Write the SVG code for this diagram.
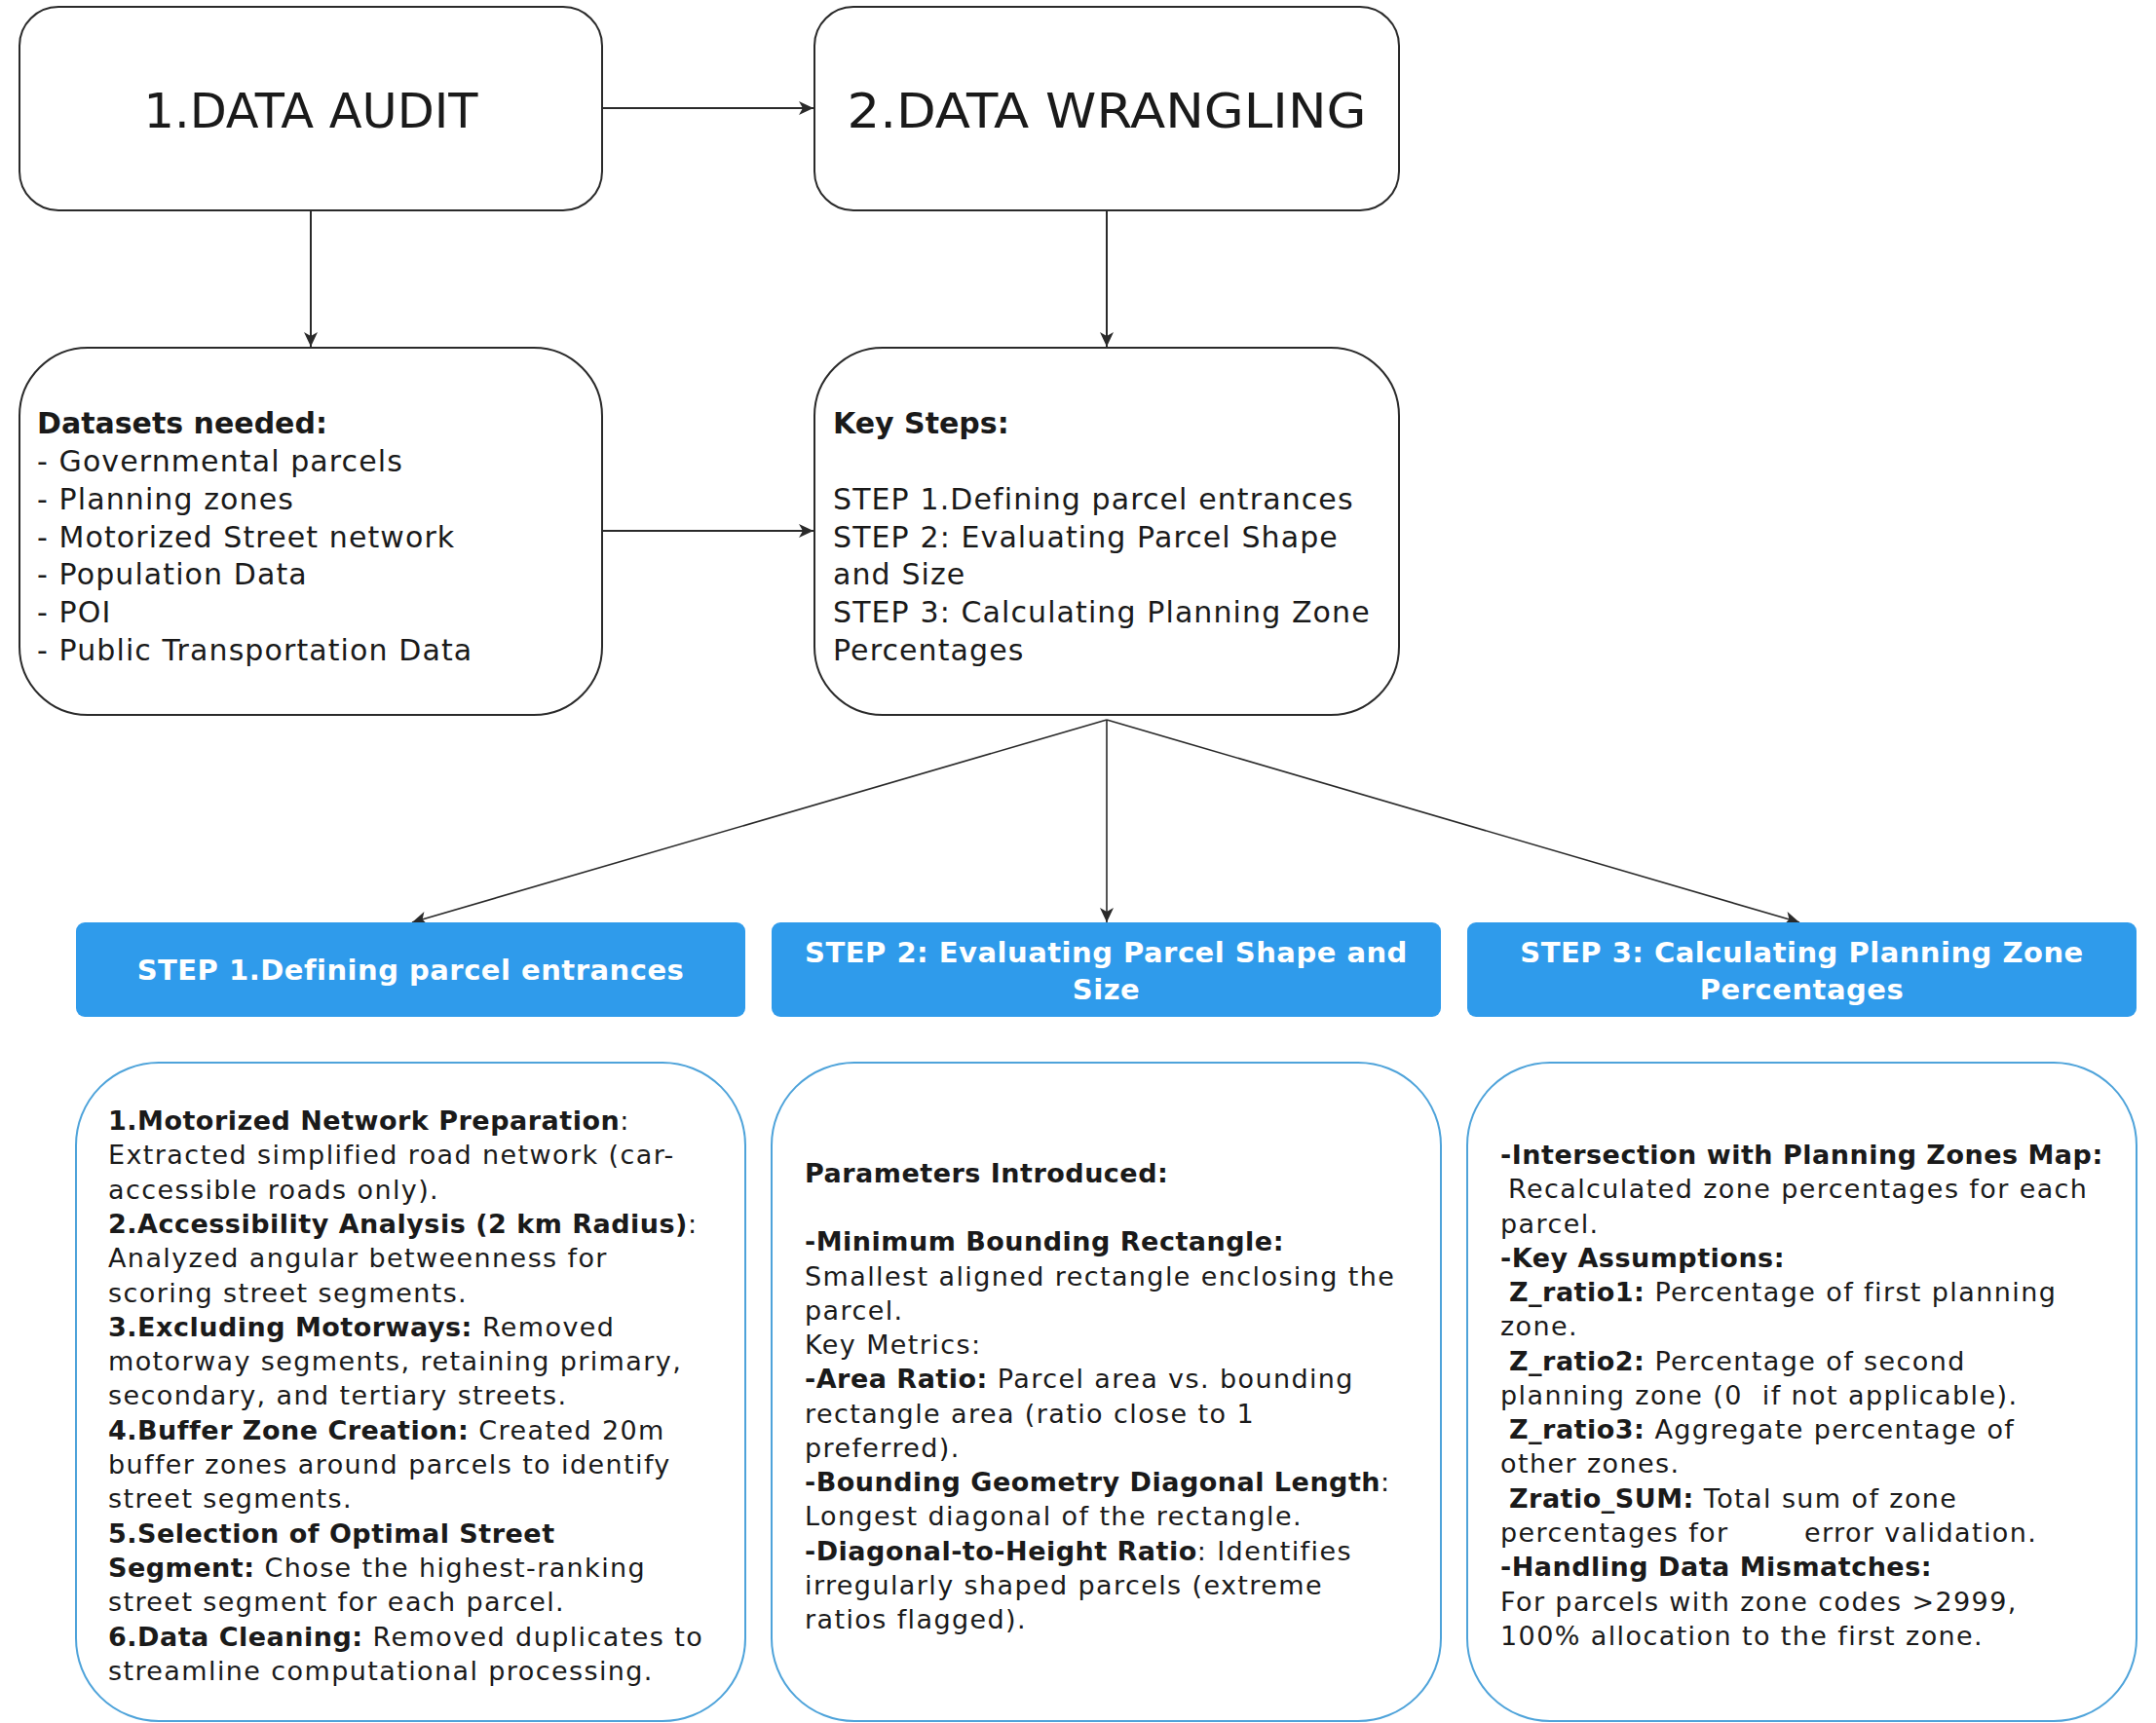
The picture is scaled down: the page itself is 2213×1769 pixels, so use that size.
<svg xmlns="http://www.w3.org/2000/svg" width="2213" height="1769" viewBox="0 0 2213 1769">
<style>
  .box{fill:#fff;stroke:#2a2a2a;stroke-width:2}
  .sbox{fill:#fff;stroke:#4ea3da;stroke-width:2}
  .blue{fill:#2f9beb}
  .title{font-family:"DejaVu Sans",sans-serif;font-size:50px;fill:#1a1a1a;text-anchor:middle}
  .tx{font-family:"DejaVu Sans",sans-serif;fill:#1a1a1a}
  .m{font-size:30px;letter-spacing:1.1px}
  .s{font-size:27px;letter-spacing:1.4px}
  .b{font-weight:bold;letter-spacing:0.5px}
  .bh{font-family:"DejaVu Sans",sans-serif;font-weight:bold;font-size:29px;fill:#fff;text-anchor:middle;letter-spacing:0.5px}
  .c{fill:none;stroke:#2a2a2a;stroke-width:2}
  .d{fill:none;stroke:#2a2a2a;stroke-width:1.6}
</style>
<defs>
  <marker id="ah" markerUnits="userSpaceOnUse" markerWidth="16" markerHeight="14" refX="15" refY="7" orient="auto">
    <path d="M0,0 L15,7 L0,14 L4,7 Z" fill="#2a2a2a"/>
  </marker>
</defs>
<rect width="2213" height="1769" fill="#fff"/>

<g id="connectors">
  <line class="c" x1="618" y1="111" x2="835" y2="111" marker-end="url(#ah)"/>
  <line class="c" x1="319" y1="216" x2="319" y2="356" marker-end="url(#ah)"/>
  <line class="c" x1="1136" y1="216" x2="1136" y2="356" marker-end="url(#ah)"/>
  <line class="c" x1="618" y1="545" x2="835" y2="545" marker-end="url(#ah)"/>
  <line class="d" x1="1136" y1="739" x2="423" y2="947" marker-end="url(#ah)"/>
  <line class="d" x1="1136" y1="739" x2="1136" y2="947" marker-end="url(#ah)"/>
  <line class="d" x1="1136" y1="739" x2="1847" y2="947" marker-end="url(#ah)"/>
</g>

<g id="data-audit">
  <rect class="box" x="20" y="7" width="598" height="209" rx="40"/>
  <text class="title" x="319" y="131" textLength="343" lengthAdjust="spacingAndGlyphs">1.DATA AUDIT</text>
</g>

<g id="data-wrangling">
  <rect class="box" x="836" y="7" width="600" height="209" rx="40"/>
  <text class="title" x="1136" y="131" textLength="533" lengthAdjust="spacingAndGlyphs">2.DATA WRANGLING</text>
</g>

<g id="datasets">
  <rect class="box" x="20" y="357" width="598" height="377" rx="70"/>
  <text class="tx m" x="38">
    <tspan class="b" x="38" y="445" style="letter-spacing:0">Datasets needed:</tspan>
    <tspan x="38" y="484">- Governmental parcels</tspan>
    <tspan x="38" y="523">- Planning zones</tspan>
    <tspan x="38" y="562">- Motorized Street network</tspan>
    <tspan x="38" y="600">- Population Data</tspan>
    <tspan x="38" y="639">- POI</tspan>
    <tspan x="38" y="678">- Public Transportation Data</tspan>
  </text>
</g>

<g id="key-steps">
  <rect class="box" x="836" y="357" width="600" height="377" rx="70"/>
  <text class="tx m" x="855">
    <tspan class="b" x="855" y="445" style="letter-spacing:0">Key Steps:</tspan>
    <tspan x="855" y="523">STEP 1.Defining parcel entrances</tspan>
    <tspan x="855" y="562">STEP 2: Evaluating Parcel Shape</tspan>
    <tspan x="855" y="600">and Size</tspan>
    <tspan x="855" y="639">STEP 3: Calculating Planning Zone</tspan>
    <tspan x="855" y="678">Percentages</tspan>
  </text>
</g>

<g id="step1-header">
  <rect class="blue" x="78" y="947" width="687" height="97" rx="9"/>
  <text class="bh" x="421.5" y="1006">STEP 1.Defining parcel entrances</text>
</g>

<g id="step2-header">
  <rect class="blue" x="792" y="947" width="687" height="97" rx="9"/>
  <text class="bh" x="1135.5" y="988">STEP 2: Evaluating Parcel Shape and</text>
  <text class="bh" x="1135.5" y="1026">Size</text>
</g>

<g id="step3-header">
  <rect class="blue" x="1506" y="947" width="687" height="97" rx="9"/>
  <text class="bh" x="1849.5" y="988">STEP 3: Calculating Planning Zone</text>
  <text class="bh" x="1849.5" y="1026">Percentages</text>
</g>

<g id="step1-details">
  <rect class="sbox" x="78" y="1091" width="687" height="676" rx="85"/>
  <text class="tx s">
    <tspan x="111" y="1160"><tspan class="b">1.Motorized Network Preparation</tspan>:</tspan>
    <tspan x="111" y="1195">Extracted simplified road network (car-</tspan>
    <tspan x="111" y="1231">accessible roads only).</tspan>
    <tspan x="111" y="1266"><tspan class="b">2.Accessibility Analysis (2 km Radius)</tspan>:</tspan>
    <tspan x="111" y="1301">Analyzed angular betweenness for</tspan>
    <tspan x="111" y="1337">scoring street segments.</tspan>
    <tspan x="111" y="1372"><tspan class="b">3.Excluding Motorways:</tspan> Removed</tspan>
    <tspan x="111" y="1407">motorway segments, retaining primary,</tspan>
    <tspan x="111" y="1442">secondary, and tertiary streets.</tspan>
    <tspan x="111" y="1478"><tspan class="b">4.Buffer Zone Creation:</tspan> Created 20m</tspan>
    <tspan x="111" y="1513">buffer zones around parcels to identify</tspan>
    <tspan x="111" y="1548">street segments.</tspan>
    <tspan x="111" y="1584"><tspan class="b">5.Selection of Optimal Street</tspan></tspan>
    <tspan x="111" y="1619"><tspan class="b">Segment:</tspan> Chose the highest-ranking</tspan>
    <tspan x="111" y="1654">street segment for each parcel.</tspan>
    <tspan x="111" y="1690"><tspan class="b">6.Data Cleaning:</tspan> Removed duplicates to</tspan>
    <tspan x="111" y="1725">streamline computational processing.</tspan>
  </text>
</g>

<g id="step2-details">
  <rect class="sbox" x="792" y="1091" width="687" height="676" rx="85"/>
  <text class="tx s">
    <tspan class="b" x="826" y="1214">Parameters Introduced:</tspan>
    <tspan class="b" x="826" y="1284">-Minimum Bounding Rectangle:</tspan>
    <tspan x="826" y="1320">Smallest aligned rectangle enclosing the</tspan>
    <tspan x="826" y="1355">parcel.</tspan>
    <tspan x="826" y="1390">Key Metrics:</tspan>
    <tspan x="826" y="1425"><tspan class="b">-Area Ratio:</tspan> Parcel area vs. bounding</tspan>
    <tspan x="826" y="1461">rectangle area (ratio close to 1</tspan>
    <tspan x="826" y="1496">preferred).</tspan>
    <tspan x="826" y="1531"><tspan class="b">-Bounding Geometry Diagonal Length</tspan>:</tspan>
    <tspan x="826" y="1566">Longest diagonal of the rectangle.</tspan>
    <tspan x="826" y="1602"><tspan class="b">-Diagonal-to-Height Ratio</tspan>: Identifies</tspan>
    <tspan x="826" y="1637">irregularly shaped parcels (extreme</tspan>
    <tspan x="826" y="1672">ratios flagged).</tspan>
  </text>
</g>

<g id="step3-details">
  <rect class="sbox" x="1506" y="1091" width="687" height="676" rx="85"/>
  <text class="tx s">
    <tspan class="b" x="1540" y="1195">-Intersection with Planning Zones Map:</tspan>
    <tspan x="1548" y="1230">Recalculated zone percentages for each</tspan>
    <tspan x="1540" y="1266">parcel.</tspan>
    <tspan class="b" x="1540" y="1301">-Key Assumptions:</tspan>
    <tspan x="1549" y="1336"><tspan class="b">Z_ratio1:</tspan> Percentage of first planning</tspan>
    <tspan x="1540" y="1371">zone.</tspan>
    <tspan x="1549" y="1407"><tspan class="b">Z_ratio2:</tspan> Percentage of second</tspan>
    <tspan x="1540" y="1442">planning zone (0&#160; if not applicable).</tspan>
    <tspan x="1549" y="1477"><tspan class="b">Z_ratio3:</tspan> Aggregate percentage of</tspan>
    <tspan x="1540" y="1512">other zones.</tspan>
    <tspan x="1549" y="1548"><tspan class="b">Zratio_SUM:</tspan> Total sum of zone</tspan>
    <tspan x="1540" y="1583">percentages for</tspan><tspan x="1852" y="1583">error validation.</tspan>
    <tspan class="b" x="1540" y="1618">-Handling Data Mismatches:</tspan>
    <tspan x="1540" y="1654">For parcels with zone codes &gt;2999,</tspan>
    <tspan x="1540" y="1689">100% allocation to the first zone.</tspan>
  </text>
</g>
</svg>
